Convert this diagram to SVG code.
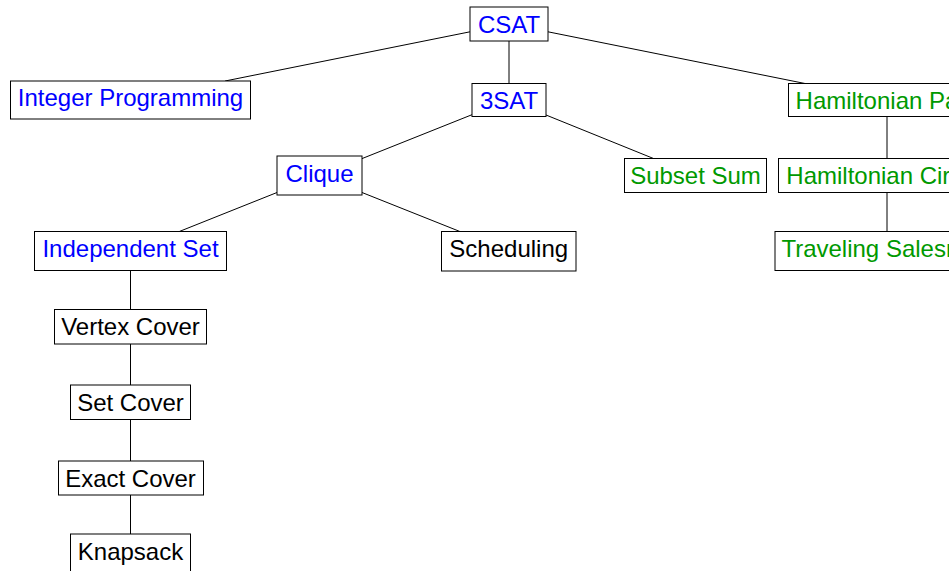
<svg xmlns="http://www.w3.org/2000/svg" width="949" height="571" viewBox="0 0 949 571">
  <style>
    .box { fill: #ffffff; stroke: #000000; stroke-width: 1; }
    .lbl { font-family: "Liberation Sans", Arial, Helvetica, sans-serif; font-size: 24px; text-anchor: middle; }
    .blue { fill: #0000ff; }
    .green { fill: #009900; }
    .black { fill: #000000; }
    .edge { stroke: #000000; stroke-width: 1; fill: none; }
  </style>
  <rect width="949" height="571" fill="#ffffff"/>

  <!-- reduction tree edges -->
  <g id="edges">
    <line class="edge" x1="470" y1="31.8" x2="225.1" y2="81"/>
    <line class="edge" x1="509" y1="41" x2="509" y2="83.5"/>
    <line class="edge" x1="548" y1="31.8" x2="805" y2="83.5"/>
    <line class="edge" x1="472" y1="114.7" x2="362" y2="158.6"/>
    <line class="edge" x1="546" y1="115" x2="653.5" y2="158.5"/>
    <line class="edge" x1="887" y1="116.5" x2="887" y2="158.5"/>
    <line class="edge" x1="277" y1="192.5" x2="179.3" y2="231.5"/>
    <line class="edge" x1="362" y1="192.5" x2="459.9" y2="231.5"/>
    <line class="edge" x1="887" y1="192.5" x2="887" y2="231.5"/>
    <line class="edge" x1="130.5" y1="270.5" x2="130.5" y2="309.5"/>
    <line class="edge" x1="130.5" y1="344" x2="130.5" y2="385"/>
    <line class="edge" x1="130.5" y1="419.5" x2="130.5" y2="461"/>
    <line class="edge" x1="130.5" y1="495" x2="130.5" y2="534"/>
  </g>

  <g id="csat">
    <rect class="box" x="470" y="7" width="78" height="34"/>
    <text class="lbl blue" x="509" y="32.5">CSAT</text>
  </g>
  <g id="integer-programming">
    <rect class="box" x="10.5" y="81" width="240" height="38"/>
    <text class="lbl blue" x="130.5" y="106">Integer Programming</text>
  </g>
  <g id="3sat">
    <rect class="box" x="472" y="83.5" width="74" height="33"/>
    <text class="lbl blue" x="509" y="108.5">3SAT</text>
  </g>
  <g id="hamiltonian-path">
    <rect class="box" x="788.5" y="83.5" width="197" height="33"/>
    <text class="lbl green" x="887" y="108.5">Hamiltonian Path</text>
  </g>
  <g id="clique">
    <rect class="box" x="277" y="156" width="85" height="39"/>
    <text class="lbl blue" x="319.5" y="181.5">Clique</text>
  </g>
  <g id="subset-sum">
    <rect class="box" x="624.5" y="158.5" width="142" height="34"/>
    <text class="lbl green" x="695.5" y="184">Subset Sum</text>
  </g>
  <g id="hamiltonian-circuit">
    <rect class="box" x="778.5" y="158.5" width="217" height="34"/>
    <text class="lbl green" x="887" y="184">Hamiltonian Circuit</text>
  </g>
  <g id="independent-set">
    <rect class="box" x="34.5" y="231.5" width="192" height="39"/>
    <text class="lbl blue" x="130.5" y="257">Independent Set</text>
  </g>
  <g id="scheduling">
    <rect class="box" x="441.5" y="231.5" width="134.5" height="39.5"/>
    <text class="lbl black" x="508.75" y="257">Scheduling</text>
  </g>
  <g id="traveling-salesman">
    <rect class="box" x="775" y="231.5" width="224" height="39"/>
    <text class="lbl green" x="887" y="257">Traveling Salesman</text>
  </g>
  <g id="vertex-cover">
    <rect class="box" x="54.5" y="309.5" width="152" height="34.5"/>
    <text class="lbl black" x="130.5" y="335">Vertex Cover</text>
  </g>
  <g id="set-cover">
    <rect class="box" x="70.5" y="385" width="120" height="34.5"/>
    <text class="lbl black" x="130.5" y="410.5">Set Cover</text>
  </g>
  <g id="exact-cover">
    <rect class="box" x="58.5" y="461" width="145" height="34"/>
    <text class="lbl black" x="130.5" y="486.5">Exact Cover</text>
  </g>
  <g id="knapsack">
    <rect class="box" x="70.5" y="534" width="120" height="38.5"/>
    <text class="lbl black" x="130.5" y="559.5">Knapsack</text>
  </g>
</svg>
